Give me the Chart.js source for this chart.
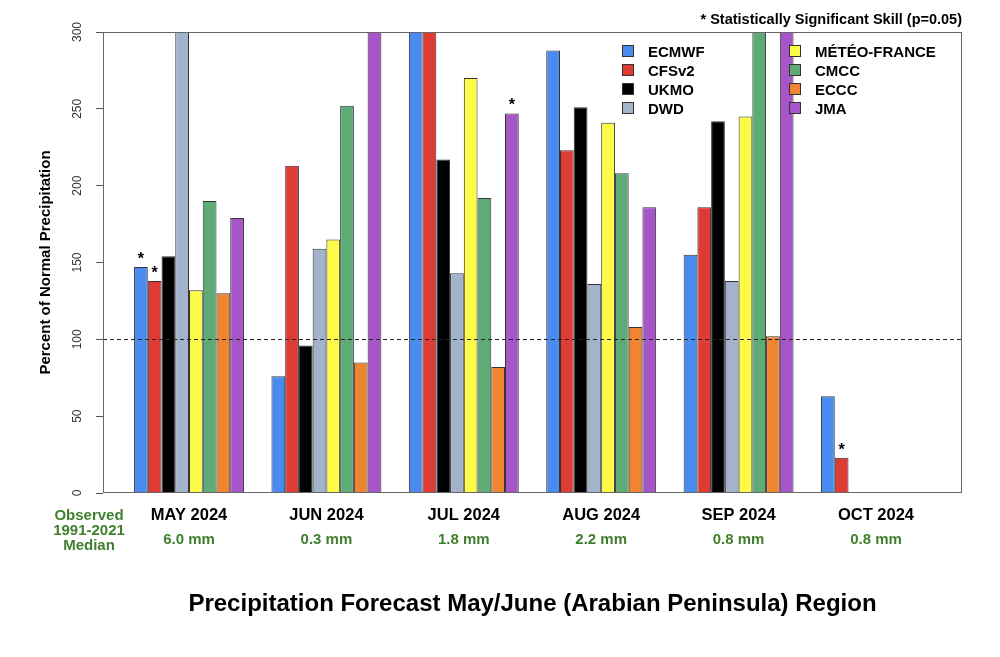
<!DOCTYPE html>
<html>
<head>
<meta charset="utf-8">
<script src="https://cdn.jsdelivr.net/npm/chart.js@4/dist/chart.umd.min.js"></script>
<style>
body { margin: 0; background: #fff; }
#wrap { position: relative; width: 1000px; height: 657px; }
#legend { position: absolute; left: 0; top: 0; font: bold 15px Arial, "Liberation Sans", sans-serif; color: #000; }
.item { position: absolute; height: 19px; line-height: 19px; white-space: nowrap; }
.item .box { position: absolute; left: 0; top: 3px; width: 10px; height: 10px; border: 1px solid #333; }
.item .txt { position: absolute; left: 26px; top: 0; }
</style>
</head>
<body>
<div id="wrap">
    <canvas id="chart" width="1000" height="657"></canvas>
    <div id="legend"></div>
</div>
<script>
// months and observed 1991-2021 median
const months = ['MAY 2024', 'JUN 2024', 'JUL 2024', 'AUG 2024', 'SEP 2024', 'OCT 2024']
const medians = ['6.0 mm', '0.3 mm', '1.8 mm', '2.2 mm', '0.8 mm', '0.8 mm']

// percent of normal precipitation (bars above 300 run off the top)
const ecmwf       = [147,  76, 320, 288, 155,   63]
const cfsv2       = [138, 213, 320, 223, 186,   23]
const ukmo        = [154,  96, 217, 251, 242, null]
const dwd         = [320, 159, 143, 136, 138, null]
const meteoFrance = [132, 165, 270, 241, 245, null]
const cmcc        = [190, 252, 192, 208, 320, null]
const eccc        = [130,  85,  82, 108, 102, null]
const jma         = [179, 320, 247, 186, 320, null]

const seriesNames  = ['ECMWF', 'CFSv2', 'UKMO', 'DWD', 'MÉTÉO-FRANCE', 'CMCC', 'ECCC', 'JMA']
const seriesValues = [ecmwf, cfsv2, ukmo, dwd, meteoFrance, cmcc, eccc, jma]
const seriesColors = ['#4a8bf0', '#de3b34', '#000000', '#a3b3cc', '#fdfb48', '#5fab75', '#ee8533', '#a656c8']

// statistically significant skill marks
const sigSkill = [['ECMWF', 'MAY 2024'], ['CFSv2', 'MAY 2024'], ['JMA', 'JUL 2024'], ['CFSv2', 'OCT 2024']]

const yTicks = [0, 50, 100, 150, 200, 250, 300]
const observedLabel = ['Observed', '1991-2021', 'Median']
const green = '#3f7f2e'

Chart.defaults.font.family = 'Arial, "Liberation Sans", sans-serif'
Chart.defaults.color = '#000'

function monthTicks(axis){
    axis.ticks = months.map((m, i) => ({value: i}))
}

let datasets = seriesNames.map((name, k) => ({
    label: name,
    data: seriesValues[k].map((v, i) => ({x: i, y: v})),
    backgroundColor: seriesColors[k],
    borderColor: '#333',
    borderWidth: 1,
    categoryPercentage: 0.8,
    barPercentage: 1.0,
    clip: 0
}))

const extras = {
    id: 'extras',
    afterDatasetsDraw(chart){
        const {ctx, chartArea: a, scales} = chart
        ctx.save()
        // normal line at 100%
        let y100 = Math.round(scales.y.getPixelForValue(100)) + 0.5
        ctx.strokeStyle = '#222'
        ctx.lineWidth = 1
        ctx.setLineDash([4, 3])
        ctx.beginPath()
        ctx.moveTo(a.left, y100)
        ctx.lineTo(a.right, y100)
        ctx.stroke()
        ctx.setLineDash([])
        // frame
        ctx.strokeStyle = '#666'
        ctx.strokeRect(a.left + 0.5, a.top + 0.5, a.right - a.left - 1, a.bottom - a.top - 1)
        // significance stars
        ctx.fillStyle = '#000'
        ctx.font = 'bold 16px Arial, "Liberation Sans", sans-serif'
        ctx.textAlign = 'center'
        ctx.textBaseline = 'alphabetic'
        for (let [name, month] of sigSkill){
            let bar = chart.getDatasetMeta(seriesNames.indexOf(name)).data[months.indexOf(month)]
            ctx.fillText('*', bar.x, bar.y - 3)
        }
        // observed median label
        ctx.fillStyle = green
        ctx.font = 'bold 15px Arial, "Liberation Sans", sans-serif'
        ctx.textBaseline = 'middle'
        observedLabel.forEach((t, j) => ctx.fillText(t, 89, 516 + j * 15))
        ctx.restore()
    }
}

new Chart(document.getElementById('chart'), {
    type: 'bar',
    data: {datasets: datasets},
    options: {
        responsive: false,
        animation: false,
        layout: {padding: {left: 0, right: 38, top: 0, bottom: 0}},
        scales: {
            x: {
                type: 'linear',
                offset: false,
                min: -0.626,
                max: 5.626,
                afterBuildTicks: monthTicks,
                afterFit: s => { s.height = 28 },
                ticks: {
                    callback: v => months[v],
                    autoSkip: false, maxRotation: 0,
                    padding: 13,
                    font: {size: 16.5, weight: 'bold'},
                    color: '#000'
                },
                grid: {display: false, drawTicks: false},
                border: {display: false}
            },
            x2: {
                type: 'linear',
                position: 'bottom',
                offset: false,
                weight: 1,
                min: -0.626,
                max: 5.626,
                afterBuildTicks: monthTicks,
                afterFit: s => { s.height = 34 },
                ticks: {
                    callback: v => medians[v],
                    autoSkip: false, maxRotation: 0,
                    padding: 10,
                    font: {size: 15, weight: 'bold'},
                    color: green
                },
                grid: {display: false, drawTicks: false},
                border: {display: false}
            },
            y: {
                min: 0,
                max: 300,
                afterBuildTicks: axis => { axis.ticks = yTicks.map(v => ({value: v})) },
                afterFit: s => { s.width = 103 },
                ticks: {
                    color: '#333',
                    font: {size: 12},
                    minRotation: 90, maxRotation: 90,
                    crossAlign: 'center',
                    padding: 8
                },
                grid: {drawOnChartArea: false, drawTicks: true, tickLength: 7, color: '#555'},
                border: {display: false},
                title: {
                    display: true,
                    text: 'Percent of Normal Precipitation',
                    font: {size: 15, weight: 'bold'},
                    color: '#000',
                    padding: {top: 37, bottom: 0}
                }
            }
        },
        plugins: {
            legend: {display: false},
            tooltip: {enabled: false},
            subtitle: {
                display: true,
                text: '* Statistically Significant Skill (p=0.05)',
                position: 'top',
                align: 'end',
                font: {size: 14.5, weight: 'bold'},
                color: '#000',
                padding: {top: 11.3, bottom: 3.3}
            },
            title: {
                display: true,
                text: 'Precipitation Forecast May/June (Arabian Peninsula) Region',
                position: 'bottom',
                fullSize: false,
                font: {size: 24, weight: 'bold'},
                color: '#000',
                padding: {top: 34.6, bottom: 38.6}
            }
        }
    },
    plugins: [extras]
})

// legend in two columns of four, drawn over the plot
let legend = document.getElementById('legend')
let colX = [622, 789]
let rowTop = [42, 61, 80, 99]
seriesNames.forEach((name, k) => {
    let item = document.createElement('div')
    item.className = 'item'
    item.style.left = colX[Math.floor(k / 4)] + 'px'
    item.style.top = rowTop[k % 4] + 'px'
    item.innerHTML = `<span class="box" style="background:${seriesColors[k]}"></span><span class="txt">${name}</span>`
    legend.appendChild(item)
})
</script>
</body>
</html>
